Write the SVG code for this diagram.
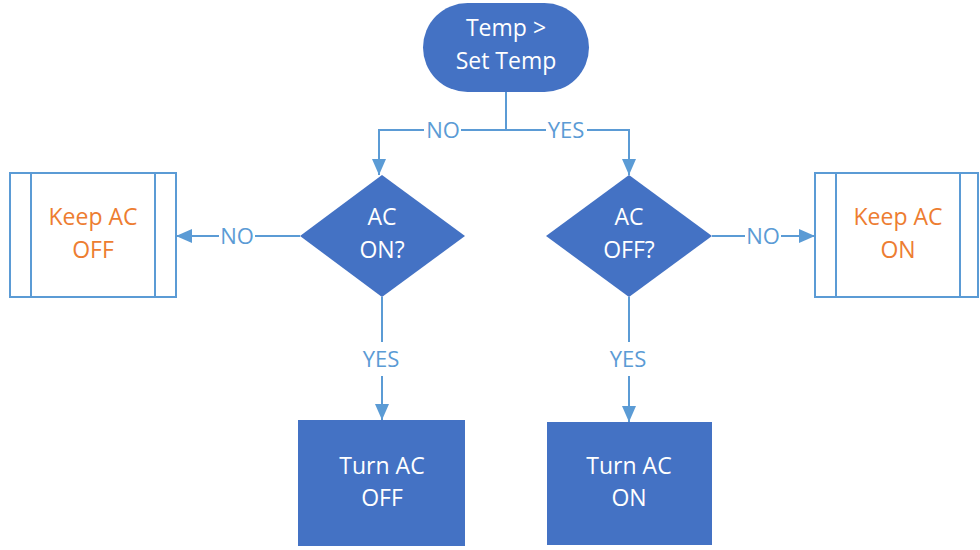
<svg xmlns="http://www.w3.org/2000/svg" width="980" height="550" viewBox="0 0 980 550">
  <style>
    .shape { fill: #4472C4; }
    .keep { fill: #FFFFFF; stroke: #5B9BD5; stroke-width: 2; }
    .bar { stroke: #5B9BD5; stroke-width: 2; fill: none; }
    .wire { fill: none; stroke: #5B9BD5; stroke-width: 2; }
    .txt { font-family: "Open Sans", "Noto Sans", sans-serif; font-size: 23px; text-anchor: middle; }
    .w { fill: #FFFFFF; }
    .o { fill: #ED7D31; }
    .lbl { font-family: "Open Sans", "Noto Sans", sans-serif; font-size: 22px; fill: #5B9BD5; text-anchor: middle; }
    .gap { fill: #FFFFFF; }
  </style>
  <defs>
    <marker id="head" viewBox="0 0 16 14" refX="16" refY="7" markerWidth="16" markerHeight="14" markerUnits="userSpaceOnUse" orient="auto">
      <path d="M0,0 L16,7 L0,14 z" fill="#5B9BD5"/>
    </marker>
  </defs>

  <!-- connectors -->
  <g id="connectors">
    <path class="wire" d="M506,92 V130 H379 V175" marker-end="url(#head)"/>
    <path class="wire" d="M506,130 H629 V175" marker-end="url(#head)"/>
    <path class="wire" d="M300,236 H176" marker-end="url(#head)"/>
    <path class="wire" d="M712,236 H815" marker-end="url(#head)"/>
    <path class="wire" d="M382,297 V420" marker-end="url(#head)"/>
    <path class="wire" d="M629,297 V422" marker-end="url(#head)"/>
    <!-- label backgrounds break the lines -->
    <rect class="gap" x="424" y="118" width="37" height="24"/>
    <rect class="gap" x="546" y="118" width="41" height="24"/>
    <rect class="gap" x="219" y="224" width="36" height="24"/>
    <rect class="gap" x="745" y="224" width="36" height="24"/>
    <rect class="gap" x="358" y="342" width="48" height="34"/>
    <rect class="gap" x="605" y="342" width="48" height="34"/>
    <text class="lbl" x="443" y="138">NO</text>
    <text class="lbl" x="566" y="138">YES</text>
    <text class="lbl" x="237" y="244">NO</text>
    <text class="lbl" x="763" y="244">NO</text>
    <text class="lbl" x="381" y="367">YES</text>
    <text class="lbl" x="628" y="367">YES</text>
  </g>

  <g id="start">
    <rect class="shape" x="423" y="3" width="166" height="89" rx="44.5" ry="44.5"/>
    <text class="txt w" x="506" y="36">Temp &gt;</text>
    <text class="txt w" x="506" y="69">Set Temp</text>
  </g>

  <g id="ac-on">
    <polygon class="shape" points="382,175 465,236 382,297 300,236"/>
    <text class="txt w" x="382" y="225">AC</text>
    <text class="txt w" x="382" y="258">ON?</text>
  </g>

  <g id="ac-off">
    <polygon class="shape" points="629,175 712,236 629,297 546,236"/>
    <text class="txt w" x="629" y="225">AC</text>
    <text class="txt w" x="629" y="258">OFF?</text>
  </g>

  <g id="keep-off">
    <rect class="keep" x="10" y="173" width="166" height="124"/>
    <path class="bar" d="M31,173 V297 M155,173 V297"/>
    <text class="txt o" x="93" y="225">Keep AC</text>
    <text class="txt o" x="93" y="258">OFF</text>
  </g>

  <g id="keep-on">
    <rect class="keep" x="815" y="173" width="163" height="124"/>
    <path class="bar" d="M836,173 V297 M960,173 V297"/>
    <text class="txt o" x="898" y="225">Keep AC</text>
    <text class="txt o" x="898" y="258">ON</text>
  </g>

  <g id="turn-off">
    <rect class="shape" x="298" y="420" width="167" height="126"/>
    <text class="txt w" x="382" y="474">Turn AC</text>
    <text class="txt w" x="382" y="506">OFF</text>
  </g>

  <g id="turn-on">
    <rect class="shape" x="547" y="422" width="165" height="123"/>
    <text class="txt w" x="629" y="474">Turn AC</text>
    <text class="txt w" x="629" y="506">ON</text>
  </g>
</svg>
